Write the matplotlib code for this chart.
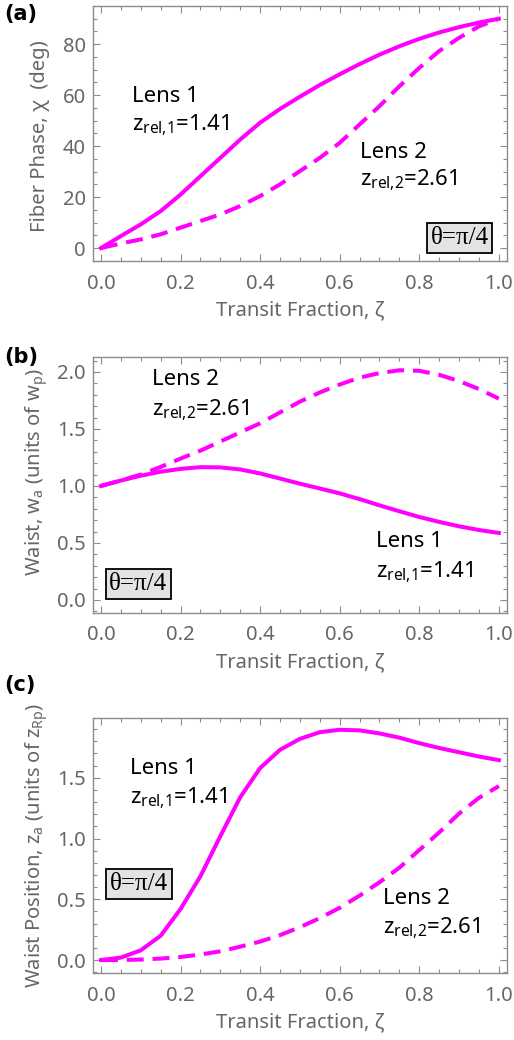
import matplotlib.pyplot as plt
from matplotlib.ticker import MultipleLocator

plt.rcParams['font.family'] = ['Noto Sans', 'DejaVu Sans']
plt.rcParams['mathtext.fontset'] = 'custom'
plt.rcParams['mathtext.rm'] = 'Noto Sans'
plt.rcParams['mathtext.it'] = 'Noto Sans:italic'

# transit fraction, zeta
zeta = [0.0, 0.05, 0.1, 0.15, 0.2, 0.25, 0.3, 0.35, 0.4, 0.45, 0.5,
        0.55, 0.6, 0.65, 0.7, 0.75, 0.8, 0.85, 0.9, 0.95, 1.0]

# (a) fiber phase chi (deg)
chi_lens1 = [0, 4.7, 9.3, 14.5, 21, 28.2, 35.4, 42.6, 49.2, 54.6, 59.4,
             64.0, 68.2, 72.2, 75.9, 79.2, 82.1, 84.6, 86.7, 88.5, 90]
chi_lens2 = [0, 1.8, 3.4, 5.4, 8, 10.6, 13.2, 16.5, 20.4, 25, 30.2,
             35.4, 41.3, 48.5, 55.7, 63.5, 70.7, 77.3, 82.5, 87, 90]

# (b) waist w_a (units of w_p)
w_lens1 = [1.0, 1.048, 1.09, 1.125, 1.15, 1.165, 1.163, 1.145, 1.11, 1.065, 1.02,
           0.978, 0.935, 0.885, 0.83, 0.778, 0.728, 0.685, 0.646, 0.614, 0.588]
w_lens2 = [1.0, 1.048, 1.10, 1.167, 1.24, 1.31, 1.39, 1.47, 1.55, 1.645, 1.74,
           1.82, 1.89, 1.95, 1.99, 2.015, 2.01, 1.975, 1.92, 1.85, 1.766]

# (c) waist position z_a (units of z_Rp)
z_lens1 = [0, 0.02, 0.08, 0.2, 0.42, 0.69, 1.02, 1.34, 1.58, 1.73, 1.82,
           1.875, 1.895, 1.89, 1.865, 1.83, 1.785, 1.745, 1.71, 1.675, 1.645]
z_lens2 = [0, 0, 0.004, 0.012, 0.025, 0.045, 0.072, 0.11, 0.152, 0.205, 0.27,
           0.345, 0.43, 0.53, 0.64, 0.76, 0.905, 1.05, 1.205, 1.335, 1.431]

magenta = '#ff00ff'
gray = '#8c8c8c'
lw = 2.9

fig = plt.figure(figsize=(5.14, 10.4), dpi=100)
ax_a = fig.add_axes([0.181, 0.749, 0.805, 0.245])
ax_b = fig.add_axes([0.181, 0.4106, 0.805, 0.246])
ax_c = fig.add_axes([0.181, 0.0644, 0.805, 0.245])


def style(ax, ymin, ymax, ymaj, ymin_step, yfmt):
    ax.set_xlim(-0.02, 1.02)
    ax.set_ylim(ymin, ymax)
    ax.xaxis.set_major_locator(MultipleLocator(0.2))
    ax.xaxis.set_minor_locator(MultipleLocator(0.05))
    ax.yaxis.set_major_locator(MultipleLocator(ymaj))
    ax.yaxis.set_minor_locator(MultipleLocator(ymin_step))
    ax.xaxis.set_major_formatter(lambda v, p: f'{v:.1f}')
    ax.yaxis.set_major_formatter(lambda v, p: yfmt.format(v))
    ax.tick_params(which='both', direction='in', top=True, right=True,
                   color=gray, labelcolor='#666666', labelsize=14.5)
    ax.tick_params(which='major', length=5, width=0.8)
    ax.tick_params(which='minor', length=3, width=0.8)
    ax.tick_params(axis='x', pad=9)
    ax.tick_params(axis='y', pad=5)
    for s in ax.spines.values():
        s.set_color(gray)
        s.set_linewidth(1.0)
    ax.set_xlabel('Transit Fraction, ζ', fontsize=14.5, color='#666666')
    ax.xaxis.set_label_coords(0.5, -0.155)


def theta_box(ax, x, y):
    ax.text(x, y, 'θ=π/4', family='Liberation Serif', fontsize=18,
            ha='center', va='center',
            bbox=dict(boxstyle='square,pad=0.15', facecolor='#e3e3e3',
                      edgecolor='black', linewidth=1.3))


def lens_label(ax, x, y1, y2, n, val):
    ax.text(x, y1, f'Lens {n}', fontsize=16, ha='left', va='center')
    ax.text(x, y2, 'z$_{\\mathrm{rel{,}' + str(n) + '}}$=' + val,
            fontsize=16, ha='left', va='center')


def curves(ax, y1, y2):
    ax.plot(zeta, y1, color=magenta, lw=lw, solid_joinstyle='round')
    ax.plot(zeta, y2, color=magenta, lw=lw, dashes=(4.2, 2.2),
            dash_joinstyle='round')


# panel (a)
curves(ax_a, chi_lens1, chi_lens2)
style(ax_a, -5.1, 94.9, 20, 5, '{:.0f}')
ax_a.set_ylabel('Fiber Phase, χ  (deg)', fontsize=14.5, color='#666666')
ax_a.yaxis.set_label_coords(-0.104, 0.49)
lens_label(ax_a, 0.078, 59.6, 48.2, 1, '1.41')
lens_label(ax_a, 0.651, 37.6, 26.7, 2, '2.61')
theta_box(ax_a, 0.901, 4.0)

# panel (b)
curves(ax_b, w_lens1, w_lens2)
style(ax_b, -0.114, 2.13, 0.5, 0.1, '{:.1f}')
ax_b.set_ylabel('Waist, w$_\\mathrm{a}$ (units of w$_\\mathrm{p}$)',
                fontsize=14.5, color='#666666')
ax_b.yaxis.set_label_coords(-0.104, 0.55)
lens_label(ax_b, 0.128, 1.93, 1.667, 2, '2.61')
lens_label(ax_b, 0.691, 0.509, 0.246, 1, '1.41')
theta_box(ax_b, 0.094, 0.14)

# panel (c)
curves(ax_c, z_lens1, z_lens2)
style(ax_c, -0.107, 1.99, 0.5, 0.1, '{:.1f}')
ax_c.set_ylabel('Waist Position, z$_\\mathrm{a}$ (units of z$_\\mathrm{Rp}$)',
                fontsize=14.5, color='#666666')
ax_c.yaxis.set_label_coords(-0.104, 0.5)
lens_label(ax_c, 0.073, 1.575, 1.335, 1, '1.41')
lens_label(ax_c, 0.709, 0.503, 0.264, 2, '2.61')
theta_box(ax_c, 0.095, 0.627)

# panel letters
for ypix, lab in [(14, '(a)'), (357, '(b)'), (685, '(c)')]:
    fig.text(0.008, 1 - ypix / 1040, lab, fontsize=15, fontweight='bold',
             family='DejaVu Sans', ha='left', va='center')

fig.savefig('out.png', dpi=100)
